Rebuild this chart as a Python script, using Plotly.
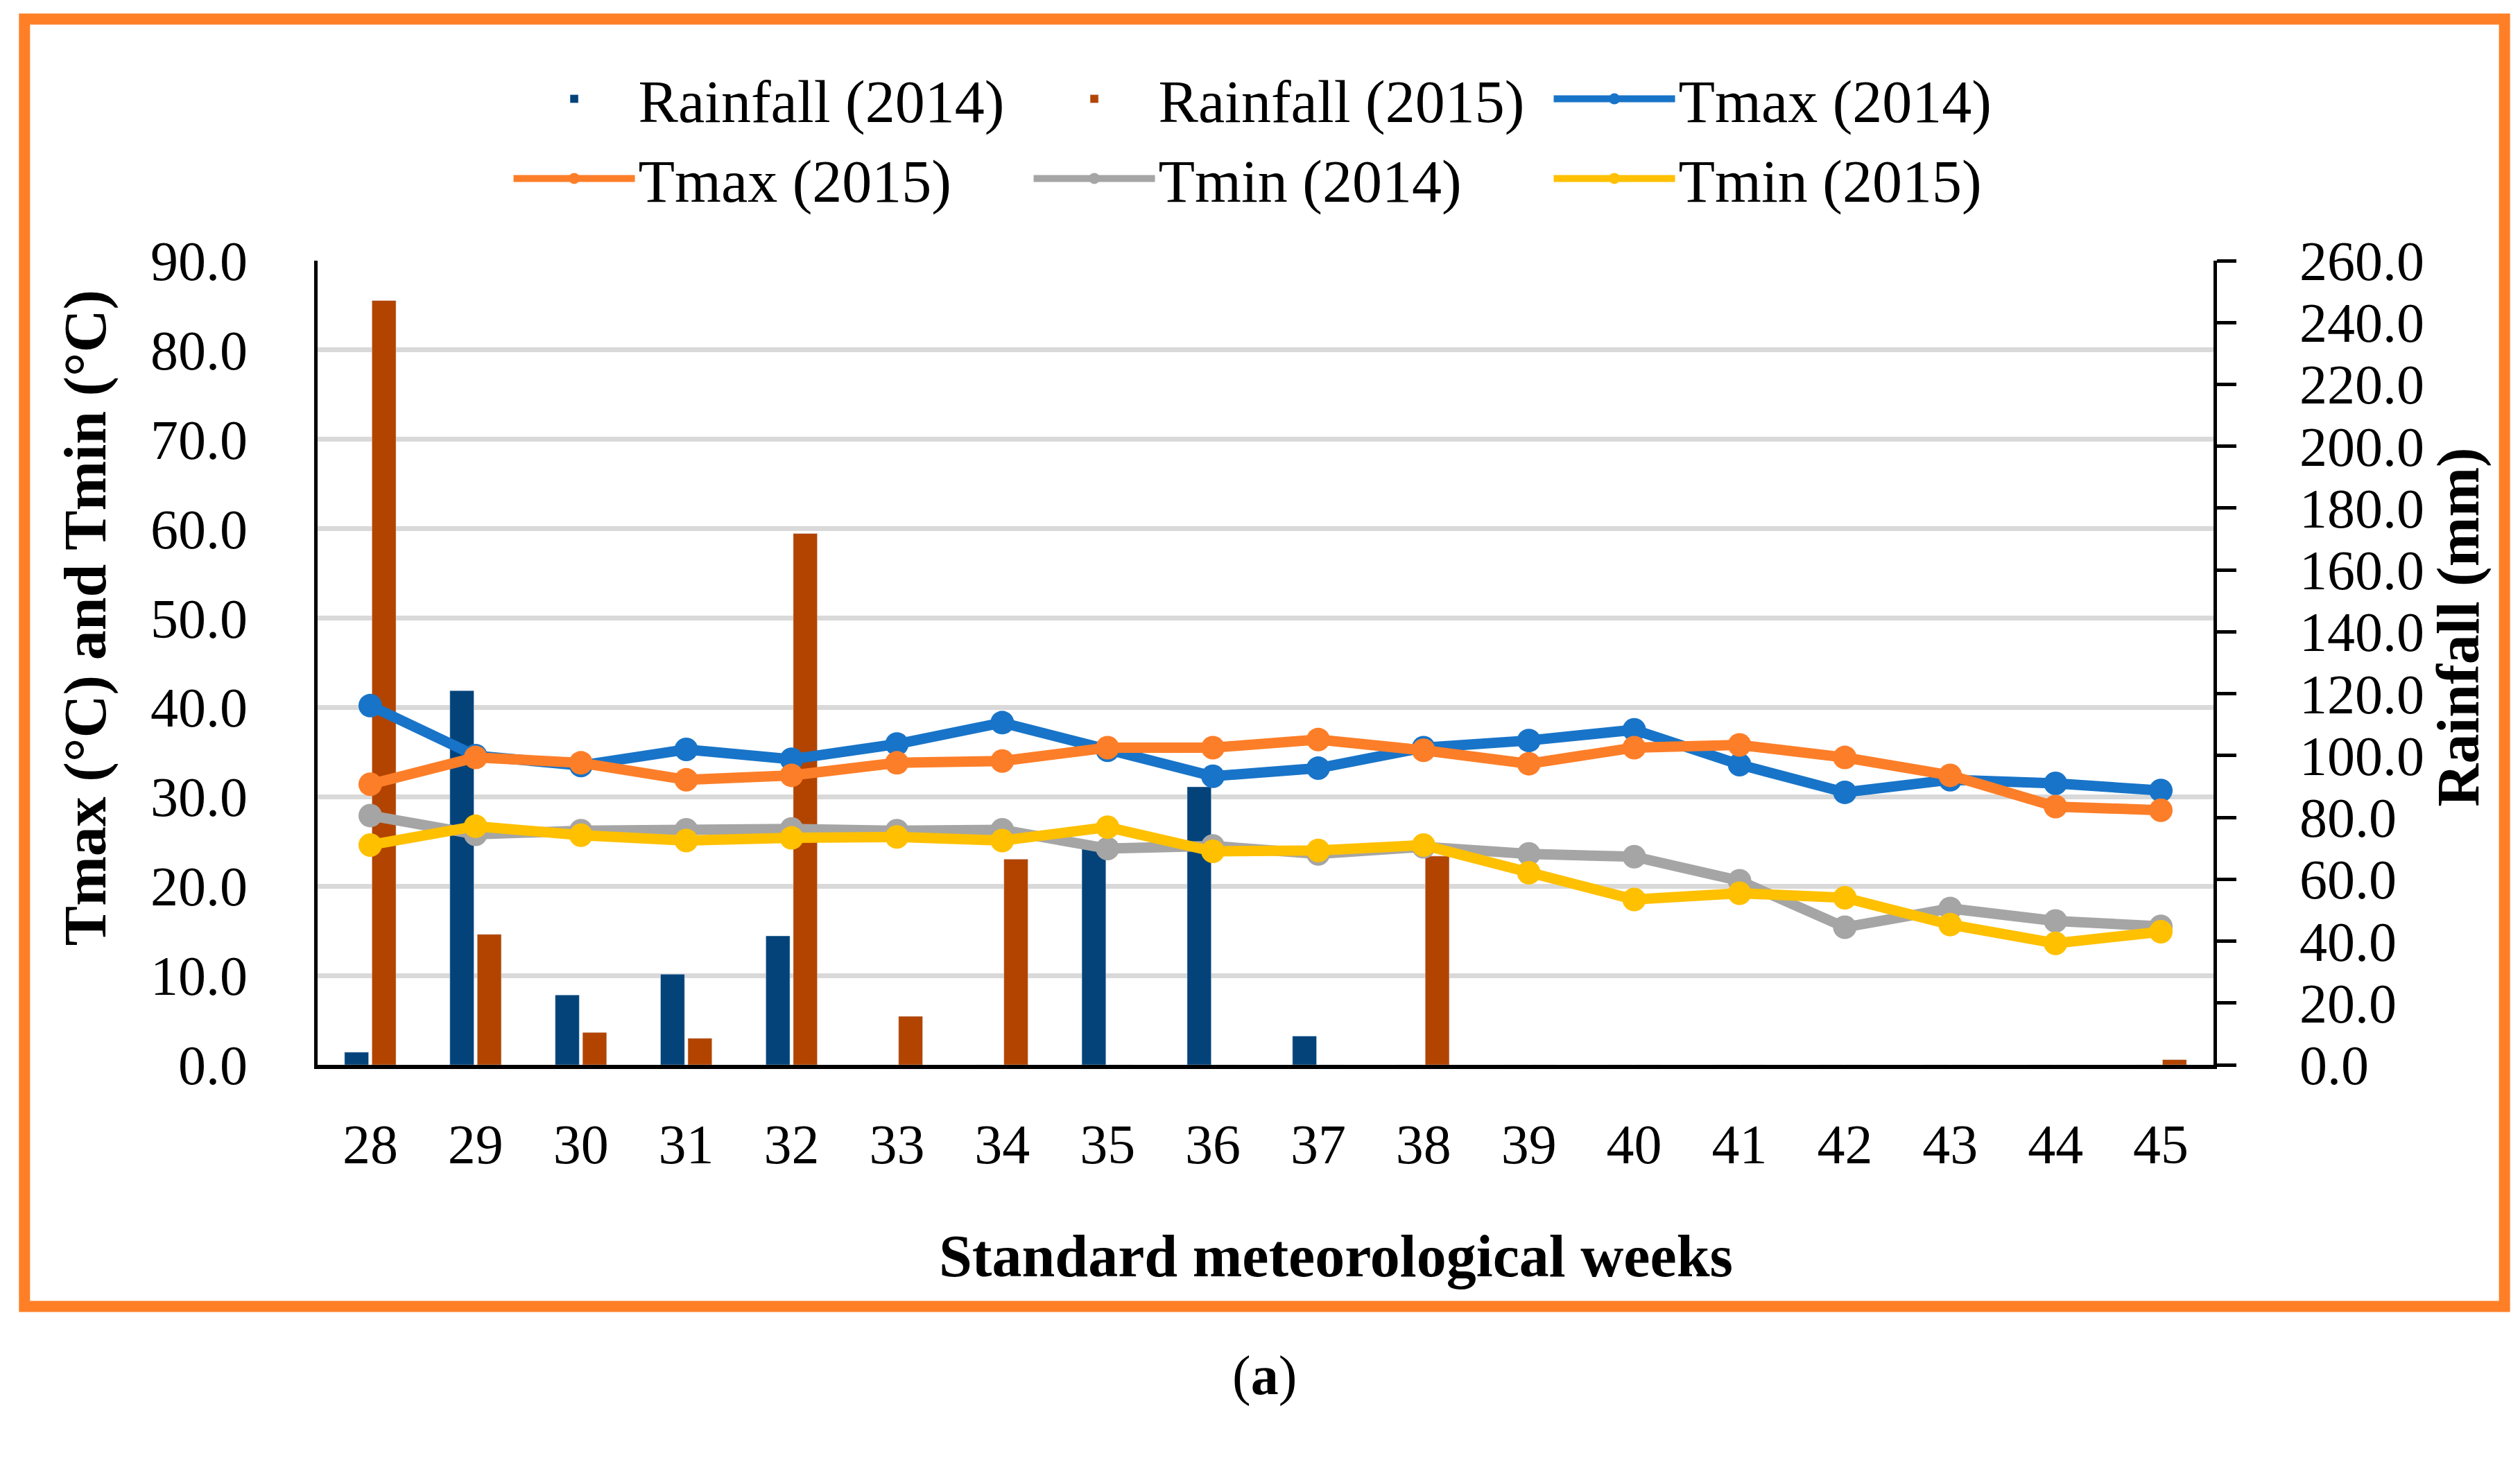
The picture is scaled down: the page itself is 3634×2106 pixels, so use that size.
import plotly.graph_objects as go

weeks = ["28", "29", "30", "31", "32", "33", "34", "35", "36", "37", "38", "39", "40", "41", "42", "43", "44", "45"]
rain_2014 = [4.1, 121.0, 22.6, 29.3, 41.7, 0, 0, 71.0, 89.9, 9.3, 0, 0, 0, 0, 0, 0, 0, 0]
rain_2015 = [247.1, 42.2, 10.5, 8.6, 171.8, 15.7, 66.5, 0, 0, 0, 67.5, 0, 0, 0, 0, 0, 0, 1.7]
tmax_2014 = [40.2, 34.6, 33.5, 35.3, 34.2, 35.9, 38.3, 35.2, 32.3, 33.2, 35.5, 36.3, 37.5, 33.6, 30.5, 31.9, 31.5, 30.7]
tmax_2015 = [31.4, 34.4, 33.8, 31.9, 32.4, 33.8, 34.0, 35.5, 35.5, 36.4, 35.2, 33.7, 35.5, 35.8, 34.4, 32.4, 28.9, 28.5]
tmin_2014 = [27.9, 25.8, 26.2, 26.3, 26.4, 26.2, 26.3, 24.2, 24.5, 23.6, 24.4, 23.6, 23.3, 20.6, 15.4, 17.5, 16.1, 15.5]
tmin_2015 = [24.6, 26.7, 25.7, 25.1, 25.4, 25.5, 25.1, 26.6, 23.9, 24.0, 24.6, 21.5, 18.5, 19.2, 18.7, 15.7, 13.6, 14.9]

temp_ticks = [0, 10, 20, 30, 40, 50, 60, 70, 80, 90]
rain_ticks = [0, 20, 40, 60, 80, 100, 120, 140, 160, 180, 200, 220, 240, 260]

FONT = "Liberation Serif, serif"
FS = 80
TFS = 86

fig = go.Figure()
fig.add_trace(go.Bar(x=weeks, y=rain_2014, name="Rainfall (2014)", marker_color="#03437A", yaxis="y"))
fig.add_trace(go.Bar(x=weeks, y=rain_2015, name="Rainfall (2015)", marker_color="#B24400", yaxis="y"))

line_series = [
    ("Tmax (2014)", tmax_2014, "#1874C8"),
    ("Tmax (2015)", tmax_2015, "#FD7E28"),
    ("Tmin (2014)", tmin_2014, "#A5A5A5"),
    ("Tmin (2015)", tmin_2015, "#FFC000"),
]
for name, vals, col in line_series:
    fig.add_trace(go.Scatter(x=weeks, y=vals, name=name, mode="lines+markers",
                             line=dict(color=col, width=15),
                             marker=dict(color=col, size=34),
                             yaxis="y2"))

fig.update_layout(
    width=3634, height=2106,
    margin=dict(l=450, r=450, t=368, b=578),
    paper_bgcolor="white", plot_bgcolor="white",
    font=dict(family=FONT, size=FS, color="black"),
    barmode="group", bargap=0.48, bargroupgap=0.12,
    showlegend=True,
    legend=dict(orientation="h", x=0.513, xanchor="center", y=1.255, yanchor="top",
                entrywidth=560, entrywidthmode="pixels", itemwidth=175,
                font=dict(family=FONT, size=TFS), bgcolor="rgba(0,0,0,0)",
                traceorder="normal", tracegroupgap=0),
    xaxis=dict(type="category", range=[-0.5, 17.5], showline=True, linecolor="black", linewidth=6,
               ticks="", showgrid=False, tickfont=dict(size=FS), ticklabelstandoff=40),
    yaxis=dict(side="right", range=[0, 260], tickvals=rain_ticks,
               ticktext=[f"{v:.1f}" for v in rain_ticks],
               showline=True, linecolor="black", linewidth=5,
               ticks="outside", ticklen=28, tickwidth=5, tickcolor="black",
               showgrid=False, zeroline=False, tickfont=dict(size=FS), ticklabelstandoff=75),
    yaxis2=dict(side="left", overlaying="y", range=[0, 90], tickvals=temp_ticks,
                ticktext=[f"{v:.1f}" for v in temp_ticks],
                showline=True, linecolor="black", linewidth=5, ticks="",
                showgrid=True, gridcolor="#D9D9D9", gridwidth=7, zeroline=False,
                tickfont=dict(size=FS), ticklabelstandoff=80),
)

fig.add_annotation(text="<b>Tmax (°C) and Tmin (°C)</b>", xref="paper", yref="paper",
                   x=-0.1225, y=0.556, textangle=-90, showarrow=False,
                   xanchor="center", yanchor="middle", font=dict(size=TFS))
fig.add_annotation(text="<b>Rainfall (mm)</b>", xref="paper", yref="paper",
                   x=1.129, y=0.544, textangle=-90, showarrow=False,
                   xanchor="center", yanchor="middle", font=dict(size=TFS))
fig.add_annotation(text="<b>Standard meteorological weeks</b>", xref="paper", yref="paper",
                   x=0.537, y=-0.238, showarrow=False,
                   xanchor="center", yanchor="middle", font=dict(size=TFS))
fig.add_annotation(text="(<b>a</b>)", xref="paper", yref="paper",
                   x=0.4996, y=-0.387, showarrow=False,
                   xanchor="center", yanchor="middle", font=dict(size=FS))

fig.add_shape(type="rect", xref="paper", yref="paper",
              x0=-0.1546, x1=1.1535, y0=-0.3005, y1=1.3005,
              line=dict(color="#FF7F27", width=16), fillcolor="rgba(0,0,0,0)", layer="below")

fig.write_html("out.html")
